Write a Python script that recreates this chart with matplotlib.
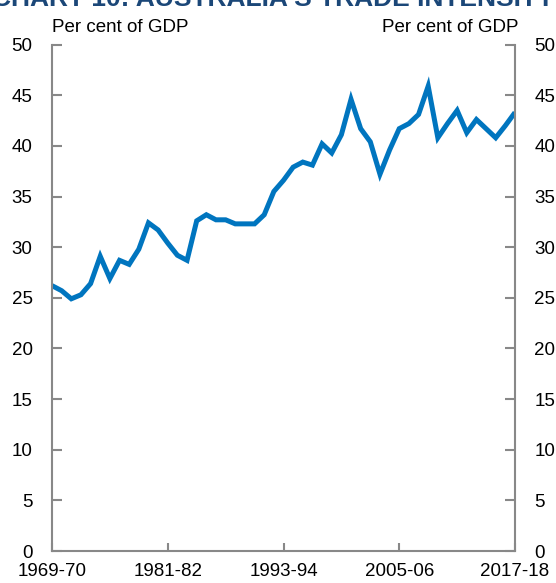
import matplotlib
matplotlib.use("Agg")
import matplotlib.pyplot as plt

years = ["1969-70", "1981-82", "1993-94", "2005-06", "2017-18"]
values = [26.2, 25.7, 24.9, 25.3, 26.4, 29.1, 26.9, 28.7, 28.3, 29.8,
          32.4, 31.7, 30.4, 29.2, 28.7, 32.6, 33.2, 32.7, 32.7, 32.3,
          32.3, 32.3, 33.2, 35.5, 36.6, 37.9, 38.4, 38.1, 40.2, 39.3,
          41.1, 44.6, 41.7, 40.4, 37.2, 39.6, 41.7, 42.2, 43.1, 45.9,
          40.8, 42.2, 43.5, 41.3, 42.6, 41.7, 40.8, 42.0, 43.3]
tick_idx = [0, 12, 24, 36, 48]
yticks = list(range(0, 51, 5))
title = "CHART 10: AUSTRALIA'S TRADE INTENSITY"
unit = "Per cent of GDP"

plt.rcParams['font.family'] = ['Liberation Sans', 'DejaVu Sans']
fig = plt.figure(figsize=(5.56, 5.83), dpi=100)
ax = fig.add_axes([52/556, 1-551/583, (515-52)/556, (551-44.6)/583])
x = list(range(len(values)))
ax.plot(x, values, color='#0075BF', lw=3.6, solid_joinstyle='miter', solid_capstyle='butt')
ax.set_xlim(0, len(values)-1)
ax.set_ylim(0, 50)
ax.set_yticks(yticks)
ax.set_xticks(tick_idx)
ax.set_xticklabels(years)
gray = '#888888'
for s in ['left', 'right', 'bottom']:
    ax.spines[s].set_color(gray)
    ax.spines[s].set_linewidth(1.5)
ax.spines['top'].set_visible(False)
ax.tick_params(axis='y', direction='in', length=7, width=1.5, color=gray,
               labelsize=13.5, left=True, right=True, labelleft=True, labelright=True, pad=14)
ax.tick_params(axis='x', direction='in', length=6, width=1.5, color=gray,
               labelsize=13.5, pad=9)
fig.text(52/556, 1-27/583, unit, fontsize=13.5, ha='left', va='center')
fig.text(518/556, 1-27/583, unit, fontsize=13.5, ha='right', va='center')
fig.text(-8/556, 1-6/583, title, fontsize=19, fontweight='bold', color='#1B4778',
         ha='left', va='baseline')
fig.savefig("out.png", dpi=100)
